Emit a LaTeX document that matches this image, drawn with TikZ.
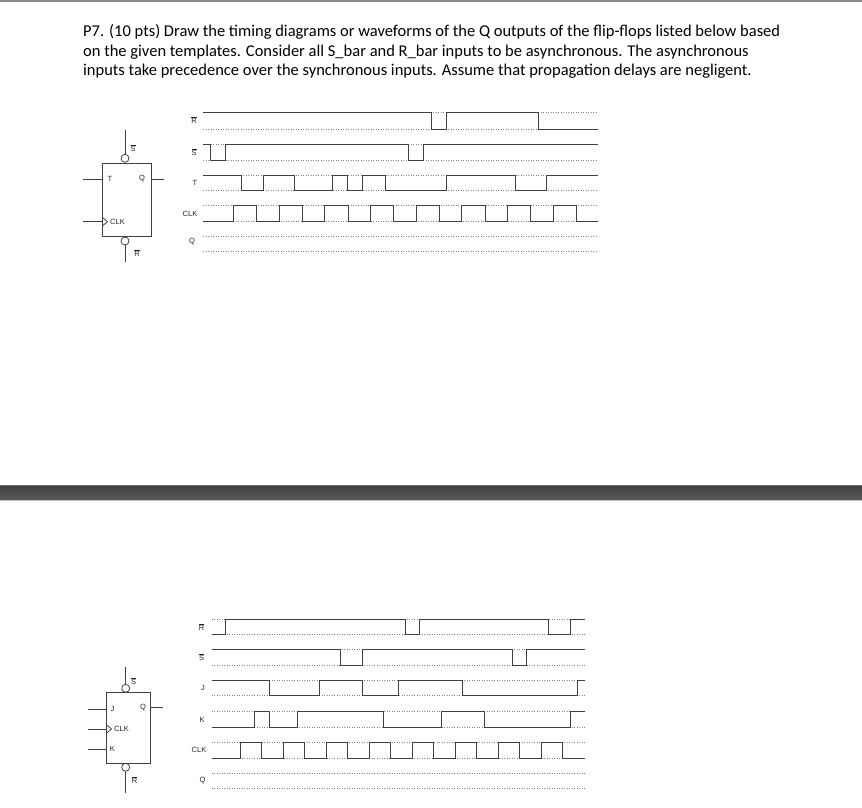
\documentclass[tikz,border=0pt]{standalone}
\usepackage{fontspec}
\setmainfont{Carlito}
\newfontfamily\lab{Liberation Sans}
\newcommand\ob[1]{\vbox{\hrule height0.6pt\kern1pt\hbox{\lab #1}}}
\begin{document}
\begin{tikzpicture}[x=1pt,y=-1pt,
  wav/.style={line width=0.9pt,draw=black!75},
  dot/.style={dotted,line width=0.5pt,draw=black!50},
  ff/.style={line width=0.8pt,draw=black!75},
  lb/.style={font=\lab\fontsize{7.5}{8}\selectfont,text=black!85,inner sep=0pt},
  txt/.style={font=\fontsize{16.5}{19.8}\selectfont,anchor=north west,inner sep=0pt,align=left}]
\useasboundingbox (0,0) rectangle (862,807);
\fill[black!45] (0,0) rectangle (862,2);
\node[txt] (q) at (83,24) {P7. (10 pts) Draw the timing diagrams or waveforms of the Q outputs of the flip-flops listed below based\\
on the given templates. Consider all S\_bar and R\_bar inputs to be asynchronous. The asynchronous\\
inputs take precedence over the synchronous inputs. Assume that propagation delays are negligent.};
% separator
\shade[top color=black!75,bottom color=black!65] (0,485) rectangle (862,500);
\draw[black!55,line width=0.6pt] (0,485)--(862,485);
\draw[black!25,line width=0.6pt] (0,500)--(862,500);

% ---------- top flip-flop ----------
\draw[ff] (102.7,163.3) rectangle (151,236.7);
\draw[ff] (83.3,179) -- (102.7,179);
\draw[ff] (151,179) -- (164,179);
\draw[ff] (83.3,221.7) -- (102.7,221.7);
\draw[ff] (102.7,217.7) -- (107.5,221.7) -- (102.7,225.7);
\draw[ff] (125,158.3) circle (4);
\draw[ff] (125,154.3) -- (125,130);
\draw[ff] (125,241) circle (4);
\draw[ff] (125,245) -- (125,262);
\node[lb] (t1) at (110,179) {T};
\node[lb] (q1) at (142,179) {Q};
\node[lb,anchor=west] (c1) at (110,221.7) {CLK};
\node[lb] (s1) at (133,148) {\ob{S}};
\node[lb] (r1) at (137,253) {\ob{R}};

% ---------- top waveforms ----------
\foreach \y in {112.3,129,144.3,160,175,190.7,205.7,221.7,236.7,251.7}
  \draw[dot] (203,\y) -- (598,\y);
\node[lb] (lr) at (194,120) {\ob{R}};
\node[lb] (ls) at (194,152) {\ob{S}};
\node[lb] (lt) at (195,183) {T};
\node[lb] (lc) at (190,213.7) {CLK};
\node[lb] (lq) at (192,242) {Q};
\draw[wav] (203,112.3) -| (431.7,129) -| (446.7,112.3) -| (538,129) -- (598,129);
\draw[wav] (203,144.3) -| (210,160) -| (225.7,144.3) -| (408,160) -| (423,144.3) -- (598,144.3);
\draw[wav] (203,175) -| (241.7,190.7) -| (263.3,175) -| (294.3,190.7) -| (332.3,175) -| (347.3,190.7)
  -| (362.7,175) -| (385,190.7) -| (446.7,175) -| (515,190.7) -| (546,175) -- (598,175);
\draw[wav] (203,221.7) foreach \k in {0,...,7} {
  -| ({233.3+45.7*\k},205.7) -| ({256.6+45.7*\k},221.7) } -- (598,221.7);

% ---------- bottom flip-flop ----------
\draw[ff] (106.7,692.3) rectangle (150.7,763.3);
\draw[ff] (88.3,709) -- (106.7,709);
\draw[ff] (88.3,729) -- (106.7,729);
\draw[ff] (106.7,725) -- (111.5,729) -- (106.7,733);
\draw[ff] (88.3,749.3) -- (106.7,749.3);
\draw[ff] (150.7,707.7) -- (163.3,707.7);
\draw[ff] (125.7,688.3) circle (4);
\draw[ff] (125.7,684.3) -- (125.7,666.7);
\draw[ff] (125.7,767.3) circle (4);
\draw[ff] (125.7,771.3) -- (125.7,793);
\node[lb] (j2) at (112.5,709) {J};
\node[lb] (q2) at (143,707.7) {Q};
\node[lb,anchor=west] (c2) at (114,729) {CLK};
\node[lb] (k2) at (112.5,749.3) {K};
\node[lb] (s2) at (133.5,681) {\ob{S}};
\node[lb] (r2) at (134.5,780) {\ob{R}};

% ---------- bottom waveforms ----------
\foreach \y in {619,634.3,649.3,665,680.7,695.7,711.7,727.3,742.3,758.3,773.3,788.3}
  \draw[dot] (211.7,\y) -- (585,\y);
\node[lb] (lr2) at (201.7,627) {\ob{R}};
\node[lb] (ls2) at (201.7,657) {\ob{S}};
\node[lb] (lj2) at (203,688) {J};
\node[lb] (lk2) at (202,719.5) {K};
\node[lb] (lc2) at (199,750) {CLK};
\node[lb] (lq2) at (202.5,781) {Q};
\draw[wav] (211.7,634.3) -| (225.7,619) -| (405,634.3) -| (419.3,619) -| (548.3,634.3) -| (570,619) -- (585,619);
\draw[wav] (211.7,649.3) -| (340,665) -| (362.7,649.3) -| (512.7,665) -| (526.7,649.3) -- (585,649.3);
\draw[wav] (211.7,680.7) -| (269,695.7) -| (319,680.7) -| (362.7,695.7) -| (398.3,680.7) -| (462.3,695.7) -| (577.7,680.7) -- (585,680.7);
\draw[wav] (211.7,727.3) -| (254,711.7) -| (269,727.3) -| (297.7,711.7) -| (383.3,727.3) -| (441,711.7) -| (484.3,727.3) -| (570,711.7) -- (585,711.7);
\draw[wav] (211.7,758.3) foreach \k in {0,...,7} {
  -| ({240.7+42.96*\k},742.3) -| ({261.7+42.96*\k},758.3) } -- (585,758.3);
\end{tikzpicture}
\end{document}
